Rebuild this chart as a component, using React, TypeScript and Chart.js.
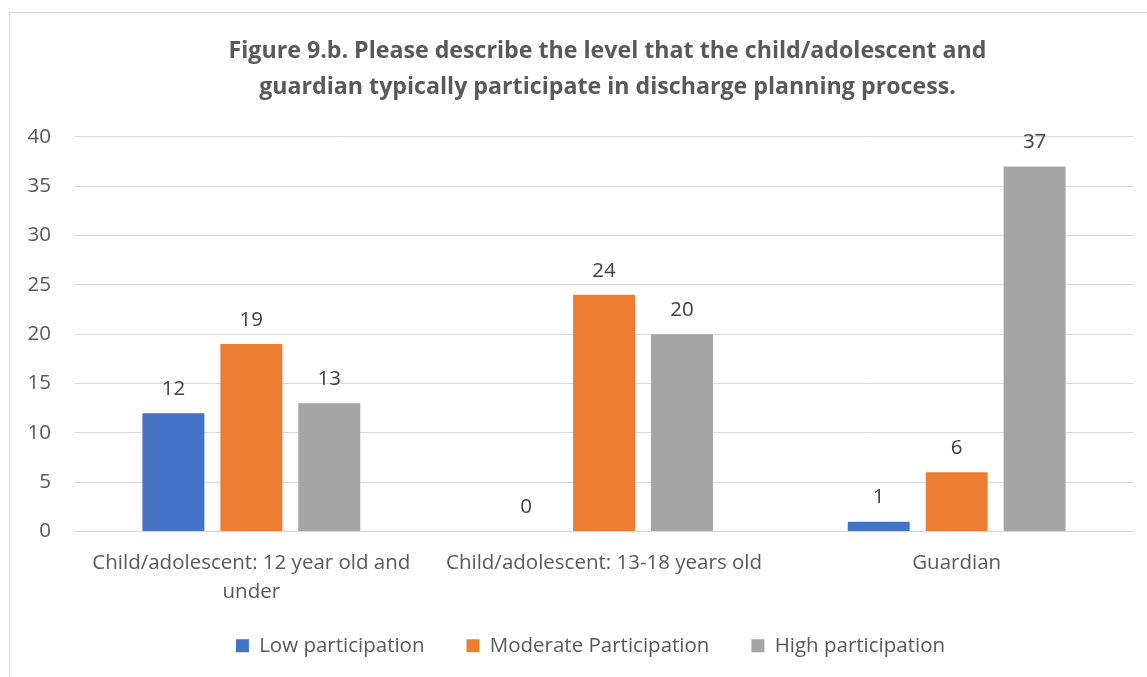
import React, { useEffect, useRef } from "react";
import { Chart, registerables } from "chart.js";

Chart.register(...registerables);

const categories: (string | string[])[] = [
  ["Child/adolescent: 12 year old and", "under"],
  "Child/adolescent: 13-18 years old",
  "Guardian",
];
const seriesNames = ["Low participation", "Moderate Participation", "High participation"];
const lowValues = [12, 0, 1];
const moderateValues = [19, 24, 6];
const highValues = [13, 20, 37];
const colors = ["#4472C4", "#ED7D31", "#A5A5A5"];
const yTicks = [0, 5, 10, 15, 20, 25, 30, 35, 40];

const titleLines = [
  "Figure 9.b. Please describe the level that the child/adolescent and",
  "guardian typically participate in discharge planning process.",
];

const FONT = "'Open Sans'";
const TXT = 20.5;

const dataLabelPlugin = {
  id: "dataLabels",
  afterDatasetsDraw(chart: any) {
    const ctx = chart.ctx;
    ctx.save();
    ctx.font = `${TXT}px ${FONT}`;
    ctx.fillStyle = "#404040";
    ctx.textAlign = "center";
    ctx.textBaseline = "middle";
    chart.data.datasets.forEach((ds: any, i: number) => {
      const meta = chart.getDatasetMeta(i);
      meta.data.forEach((el: any, j: number) => {
        ctx.fillText(String(ds.data[j]), el.x, el.y - 24);
      });
    });
    ctx.restore();
  },
};

const shiftBlocksPlugin = {
  id: "shiftBlocks",
  afterLayout(chart: any) {
    const lg = chart.legend;
    if (lg) {
      lg.left += 19;
      lg.right += 19;
      lg.top -= 18;
      lg.bottom -= 18;
    }
    const tb = chart.titleBlock;
    if (tb) {
      tb.left += 36;
      tb.right += 36;
    }
  },
};

export default function App() {
  const ref = useRef<HTMLCanvasElement>(null);
  useEffect(() => {
    if (!ref.current) return;
    const chart = new Chart(ref.current, {
      type: "bar",
      data: {
        labels: categories,
        datasets: [lowValues, moderateValues, highValues].map((d, i) => ({
          label: seriesNames[i],
          data: d,
          backgroundColor: colors[i],
          borderWidth: 0,
          categoryPercentage: 0.663,
          barPercentage: 0.795,
        })),
      },
      options: {
        responsive: false,
        animation: false,
        devicePixelRatio: 1,
        layout: { padding: { left: 0, right: 72, top: 0, bottom: 29 } },
        plugins: {
          title: {
            display: true,
            text: titleLines,
            color: "#595959",
            font: { family: FONT, size: 23.2, weight: "bold", lineHeight: 1.55 },
            padding: { top: 20, bottom: 32 },
          },
          legend: {
            position: "bottom",
            labels: {
              boxWidth: 13,
              boxHeight: 13,
              padding: 42,
              color: "#595959",
              font: { family: FONT, size: TXT },
            },
          },
          tooltip: { enabled: false },
        },
        scales: {
          x: {
            grid: { display: false, drawTicks: false },
            border: { display: false },
            ticks: {
              color: "#595959",
              font: { family: FONT, size: TXT, lineHeight: 1.42 },
              padding: 17,
              maxRotation: 0,
              autoSkip: false,
            },
            afterFit: (s: any) => {
              s.height = 80;
            },
          },
          y: {
            min: 0,
            max: 40,
            afterBuildTicks: (s: any) => {
              s.ticks = yTicks.map((v) => ({ value: v }));
            },
            grid: { color: "#D9D9D9", lineWidth: 1, drawTicks: false },
            border: { display: false },
            ticks: {
              color: "#595959",
              font: { family: FONT, size: TXT },
              padding: 24,
            },
            afterFit: (s: any) => {
              s.width = 65;
            },
          },
        },
      },
      plugins: [dataLabelPlugin, shiftBlocksPlugin],
    });
    return () => chart.destroy();
  }, []);

  return (
    <div
      style={{
        position: "fixed",
        left: 0,
        top: 0,
        width: 1147,
        height: 677,
        overflow: "hidden",
        background: "#fff",
      }}
    >
      <div
        style={{
          position: "absolute",
          left: 9,
          top: 12,
          width: 1195,
          height: 700,
          border: "1px solid #D9D9D9",
        }}
      >
        <canvas ref={ref} width={1195} height={700} style={{ display: "block" }} />
      </div>
    </div>
  );
}
